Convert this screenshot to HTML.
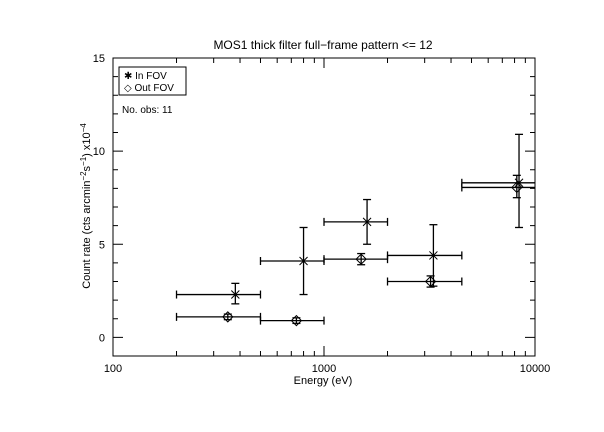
<!DOCTYPE html>
<html><head><meta charset="utf-8">
<style>
html,body{margin:0;padding:0;background:#fff;}
svg{display:block;font-family:"Liberation Sans","DejaVu Sans",sans-serif;}
text{fill:#000;}
</style></head>
<body>
<svg id="chart" width="604" height="432" viewBox="0 0 604 432">
  <text x="323" y="49" font-size="12" text-anchor="middle">MOS1 thick filter full−frame pattern &lt;= 12</text>
  <rect x="113" y="58" width="422" height="298" fill="none" stroke="#000" stroke-width="1"/>
  <g id="axes"></g>
  <g id="series"></g>
  <text x="323" y="384" font-size="11" text-anchor="middle">Energy (eV)</text>
  <text transform="translate(90,206) rotate(-90)" font-size="11" text-anchor="middle">Count rate (cts arcmin<tspan font-size="8" dy="-4">−2</tspan><tspan dy="4">s</tspan><tspan font-size="8" dy="-4">−1</tspan><tspan dy="4">) x10</tspan><tspan font-size="8" dy="-4">−4</tspan></text>
  <g>
    <rect x="119" y="67" width="67" height="28" fill="none" stroke="#000"/>
    <text x="124" y="79" font-size="10">✱ In FOV</text>
    <text x="124" y="91" font-size="10">◇ Out FOV</text>
  </g>
  <text x="122" y="113" font-size="10">No. obs: 11</text>
</svg>
<script>
const yTicks=[0,5,10,15];
const xTickLabels=["100","1000","10000"];
const inX=[380,800,1600,3300,8400];
const inY=[2.3,4.1,6.2,4.4,8.3];
const inXlo=[200,500,1000,2000,4500];
const inXhi=[500,1000,2000,4500,10000];
const inYlo=[1.8,2.3,5.0,2.75,5.9];
const inYhi=[2.9,5.9,7.4,6.05,10.9];
const outX=[350,740,1500,3200,8200];
const outY=[1.1,0.9,4.2,3.0,8.05];
const outXlo=[200,500,1000,2000,4500];
const outXhi=[500,1000,2000,4500,10000];
const outYlo=[0.95,0.75,3.9,2.7,7.5];
const outYhi=[1.25,1.05,4.5,3.3,8.7];

const NS="http://www.w3.org/2000/svg";
const L=113,R=535,T=58,B=356;
function xs(v){return L+(Math.log10(v)-2)/2*(R-L);}
function ys(v){return B-(v+1)/16*(B-T);}
function mk(tag,attrs,parent){const e=document.createElementNS(NS,tag);for(const k in attrs)e.setAttribute(k,attrs[k]);parent.appendChild(e);return e;}
const axes=document.getElementById('axes');
const ser=document.getElementById('series');
// y ticks
for(let v=-1;v<=15;v++){
  const y=ys(v);const major=(v%5===0);const len=major?10:5;
  const a=mk('line',{x1:L,x2:L+len,y1:y,y2:y,stroke:'#000'},axes);
  
  
  const b=mk('line',{x1:R,x2:R-len,y1:y,y2:y,stroke:'#000'},axes);
  
  
}
yTicks.forEach(v=>{
  const t=mk('text',{x:L-8,y:ys(v)+4,'font-size':11,'text-anchor':'end'},axes);
  t.textContent=String(v);
  
  
});
// x ticks
for(let d=100;d<10000;d*=10){for(let m=1;m<=10;m++){
  const v=d*m;if(v>10000)continue;const x=xs(v);const major=(m===1||m===10);const len=major?10:5;
  const a=mk('line',{x1:x,x2:x,y1:B,y2:B-len,stroke:'#000'},axes);
  
  
  const b=mk('line',{x1:x,x2:x,y1:T,y2:T+len,stroke:'#000'},axes);
  
  
}}
xTickLabels.forEach(s=>{
  const t=mk('text',{x:xs(+s),y:B+16,'font-size':11,'text-anchor':'middle'},axes);
  t.textContent=s;
  
  
});
function errbar(g,x,y,xl,xh,yl,yh){
  const st={stroke:'#000','stroke-width':1.3};
  mk('line',Object.assign({x1:xs(xl),x2:Math.min(xs(xh),R),y1:ys(y),y2:ys(y)},st),g);
  mk('line',Object.assign({x1:xs(xl),x2:xs(xl),y1:ys(y)-4,y2:ys(y)+4},st),g);
  if(xs(xh)<R-1)mk('line',Object.assign({x1:xs(xh),x2:xs(xh),y1:ys(y)-4,y2:ys(y)+4},st),g);
  mk('line',Object.assign({x1:xs(x),x2:xs(x),y1:ys(yl),y2:ys(yh)},st),g);
  mk('line',Object.assign({x1:xs(x)-4,x2:xs(x)+4,y1:ys(yl),y2:ys(yl)},st),g);
  mk('line',Object.assign({x1:xs(x)-4,x2:xs(x)+4,y1:ys(yh),y2:ys(yh)},st),g);
}
inX.forEach((v,i)=>{
  const g=mk('g',{},ser);
  
  
  errbar(g,v,inY[i],inXlo[i],inXhi[i],inYlo[i],inYhi[i]);
  const x=xs(v),y=ys(inY[i]);
  mk('path',{d:`M${x-4},${y-4}L${x+4},${y+4}M${x-4},${y+4}L${x+4},${y-4}`,stroke:'#000','stroke-width':1},g);
});
outX.forEach((v,i)=>{
  const g=mk('g',{},ser);
  
  
  errbar(g,v,outY[i],outXlo[i],outXhi[i],outYlo[i],outYhi[i]);
  const x=xs(v),y=ys(outY[i]);
  mk('path',{d:`M${x-5},${y}L${x},${y-5}L${x+5},${y}L${x},${y+5}Z`,fill:'none',stroke:'#000','stroke-width':1},g);
});
</script>
</body></html>
